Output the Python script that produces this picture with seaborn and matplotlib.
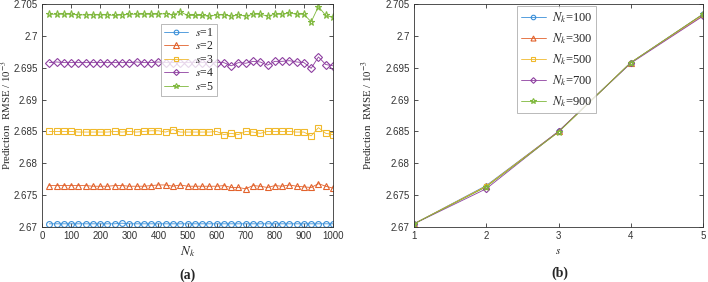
import numpy as np
import pandas as pd
import seaborn as sns
import matplotlib.pyplot as plt

# N_k values (25 .. 1000)
nk = list(range(25, 1001, 25))

s1 = [2.6705] * 40
s1[10] = 2.6706

s2 = [2.6765, 2.6765, 2.6765, 2.6765, 2.6765, 2.6765, 2.6764, 2.6764, 2.6764, 2.6765,
      2.6765, 2.6764, 2.6764, 2.6764, 2.6765, 2.6766, 2.6766, 2.6764, 2.6766, 2.6764,
      2.6764, 2.6764, 2.6764, 2.6764, 2.6765, 2.6762, 2.6762, 2.6760, 2.6765, 2.6764,
      2.6762, 2.6765, 2.6764, 2.6766, 2.6764, 2.6763, 2.6762, 2.6768, 2.6764, 2.6761]

s3 = [2.6850, 2.6850, 2.6850, 2.6850, 2.6849, 2.6849, 2.6849, 2.6849, 2.6849, 2.6850,
      2.6849, 2.6850, 2.6849, 2.6850, 2.6851, 2.6851, 2.6849, 2.6853, 2.6849, 2.6849,
      2.6849, 2.6849, 2.6849, 2.6850, 2.6845, 2.6847, 2.6845, 2.6850, 2.6849, 2.6847,
      2.6850, 2.6850, 2.6850, 2.6850, 2.6849, 2.6849, 2.6843, 2.6856, 2.6847, 2.6845]

s4 = [2.6958, 2.6959, 2.6958, 2.6958, 2.6958, 2.6958, 2.6958, 2.6958, 2.6958, 2.6958,
      2.6958, 2.6958, 2.6959, 2.6958, 2.6958, 2.6959, 2.6958, 2.6958, 2.6958, 2.6958,
      2.6958, 2.6958, 2.6958, 2.6958, 2.6958, 2.6953, 2.6958, 2.6957, 2.6960, 2.6959,
      2.6954, 2.6960, 2.6960, 2.6961, 2.6959, 2.6958, 2.6949, 2.6967, 2.6955, 2.6953]

s5 = [2.7034, 2.7034, 2.7034, 2.7034, 2.7033, 2.7033, 2.7033, 2.7033, 2.7033, 2.7032,
      2.7033, 2.7034, 2.7034, 2.7034, 2.7034, 2.7034, 2.7035, 2.7033, 2.7038, 2.7032,
      2.7032, 2.7032, 2.7031, 2.7033, 2.7033, 2.7031, 2.7033, 2.7031, 2.7034, 2.7034,
      2.7031, 2.7034, 2.7034, 2.7036, 2.7034, 2.7034, 2.7022, 2.7046, 2.7032, 2.7029]

s_vals = [1, 2, 3, 4, 5]
nk_sel = [100, 300, 500, 700, 900]

colors = ["#3a8fd8", "#e2622c", "#f0b92c", "#8e3fa0", "#7fb83c"]
markers = ["o", "^", "s", "D", "*"]
msizes = [4.2, 4.6, 3.8, 3.8, 5.2]

sns.set_style("ticks")
plt.rcParams["font.family"] = ["Liberation Sans", "DejaVu Sans"]
plt.rcParams["mathtext.fontset"] = "stix"
serif = ["Liberation Serif", "DejaVu Serif"]

fig = plt.figure(figsize=(7.08, 2.82), dpi=100)
axa = fig.add_axes([42 / 708, 55 / 282, 291 / 708, 223 / 282])
axb = fig.add_axes([414 / 708, 55 / 282, 289 / 708, 223 / 282])

series = [s1, s2, s3, s4, s5]
for i, ys in enumerate(series):
    df = pd.DataFrame({"Nk": nk, "rmse": ys})
    sns.lineplot(data=df, x="Nk", y="rmse", ax=axa, color=colors[i], marker=markers[i],
                 markersize=msizes[i], markerfacecolor="none", markeredgecolor=colors[i],
                 markeredgewidth=0.8, linewidth=0.6, label=f"$s$={i + 1}")

for j, n in enumerate(nk_sel):
    idx = nk.index(n)
    ys = [ser[idx] for ser in series]
    df = pd.DataFrame({"s": s_vals, "rmse": ys})
    sns.lineplot(data=df, x="s", y="rmse", ax=axb, color=colors[j], marker=markers[j],
                 markersize=msizes[j] - 0.6, markerfacecolor="none", markeredgecolor=colors[j],
                 markeredgewidth=0.8, linewidth=0.6, label=f"$N_k$={n}")

for ax in (axa, axb):
    ax.set_ylim(2.67, 2.705)
    ax.set_yticks([2.67, 2.675, 2.68, 2.685, 2.69, 2.695, 2.7, 2.705])
    ax.set_yticklabels(["2.67", "2.675", "2.68", "2.685", "2.69", "2.695", "2.7", "2.705"])
    ax.tick_params(direction="in", length=3, width=0.6, labelsize=7, colors="#333333",
                   top=True, right=True, pad=3)
    for sp in ax.spines.values():
        sp.set_linewidth(0.6)
        sp.set_color("#333333")
    ax.set_ylabel("Prediction  RMSE / 10$^{-3}$", family=serif, fontsize=7.8)

axa.yaxis.set_label_coords(-0.096, 0.5)
axb.yaxis.set_label_coords(-0.135, 0.5)

axa.set_xlim(0, 1000)
axa.set_xticks(range(0, 1001, 100))
axa.set_xlabel("$N_k$", family=serif, fontsize=9.5, labelpad=2)
axb.set_xlim(1, 5)
axb.set_xticks([1, 2, 3, 4, 5])
axb.set_xlabel("$s$", family=serif, fontsize=8, labelpad=4)

leg_a = axa.legend(loc="upper left", bbox_to_anchor=(0.41, 0.91), borderaxespad=0, frameon=True,
                   fancybox=False, edgecolor="#9a9a9a", borderpad=0.25, labelspacing=0.12,
                   handlelength=2.0, handletextpad=0.6, markerscale=0.8,
                   prop={"family": serif, "size": 8.5})
leg_a.get_frame().set_linewidth(0.6)
leg_b = axb.legend(loc="upper left", bbox_to_anchor=(0.356, 0.99), borderaxespad=0, frameon=True,
                   fancybox=False, edgecolor="#9a9a9a", borderpad=0.3, labelspacing=0.5,
                   handlelength=2.0, handletextpad=0.5, markerscale=0.9,
                   prop={"family": serif, "size": 9})
leg_b.get_frame().set_linewidth(0.6)

fig.text(188 / 708, 1 - 275 / 282, "(a)", family=serif, fontweight="bold", fontsize=10,
         ha="center", va="center")
fig.text(560 / 708, 1 - 273 / 282, "(b)", family=serif, fontweight="bold", fontsize=10,
         ha="center", va="center")

fig.savefig("out.png", dpi=100)
